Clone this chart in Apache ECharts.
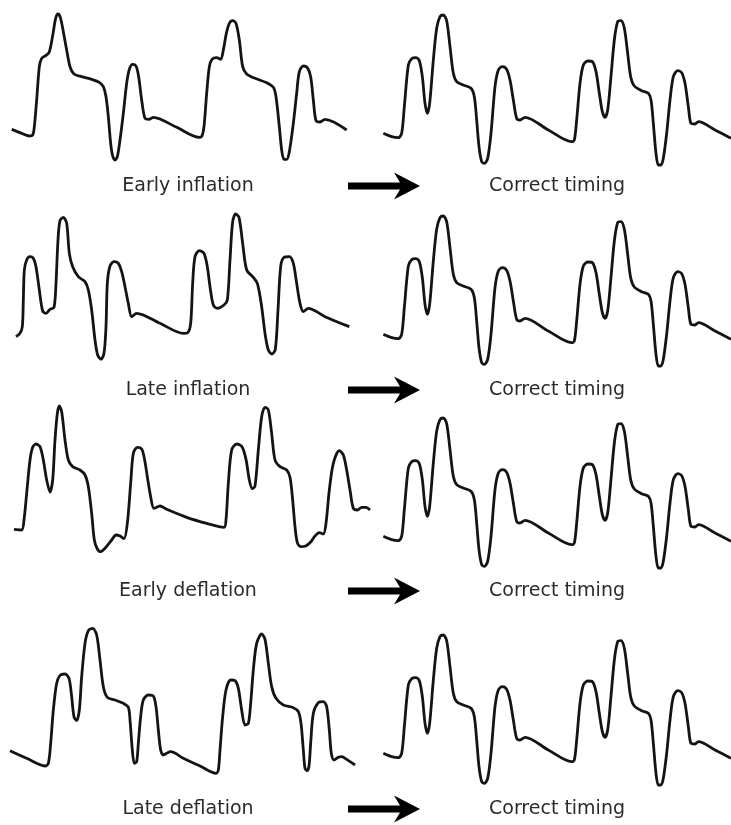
<!DOCTYPE html>
<html>
<head>
<meta charset="utf-8">
<script src="https://cdn.jsdelivr.net/npm/echarts@6/dist/echarts.min.js"></script>
<style>html,body{margin:0;padding:0;background:#fff}#c{width:731px;height:825px}</style>
</head>
<body>
<div id="c"></div>
<script>
// Waveforms: [time, pressure] in arbitrary units
var earlyInflation = [[35,152],[60,142],[88,132],[98,135],[103,160],[110,240],[118,340],[125,365],[137,373],[147,382],[153,405],[160,445],[167,485],[174,498],[181,488],[190,445],[200,390],[210,340],[222,318],[245,310],[275,302],[298,293],[310,280],[318,250],[325,190],[332,110],[338,72],[345,60],[352,70],[360,120],[370,200],[380,290],[388,332],[398,347],[408,342],[416,310],[425,240],[435,185],[447,182],[460,188],[530,158],[598,128],[606,132],[612,160],[620,260],[628,340],[636,362],[650,367],[662,362],[670,390],[679,440],[688,470],[698,478],[708,470],[718,420],[728,340],[740,318],[765,305],[800,292],[820,278],[828,250],[838,160],[845,90],[852,62],[860,62],[868,85],[880,170],[890,260],[898,325],[910,342],[922,337],[932,310],[940,240],[948,178],[960,174],[975,182],[1040,150]];
var lateInflation = [[48,130],[60,140],[67,160],[70,240],[73,330],[80,360],[90,370],[100,365],[108,340],[118,270],[128,207],[138,200],[150,212],[162,218],[168,290],[174,420],[180,478],[190,488],[200,470],[208,380],[218,340],[235,310],[255,295],[265,270],[275,210],[285,120],[293,75],[303,62],[312,80],[318,160],[322,290],[330,342],[342,355],[355,350],[365,325],[375,280],[385,230],[395,190],[410,200],[480,170],[550,140],[563,142],[572,170],[578,290],[585,370],[598,388],[612,380],[622,340],[630,280],[640,225],[652,215],[672,225],[682,240],[690,360],[698,475],[707,498],[717,488],[728,410],[740,330],[758,310],[772,290],[785,220],[795,140],[805,90],[816,78],[826,92],[834,210],[842,340],[852,368],[868,370],[880,350],[890,290],[900,230],[910,205],[925,215],[975,190],[1048,160]];
var earlyDeflation = [[42,152],[65,150],[72,180],[80,260],[90,360],[98,398],[108,408],[120,400],[130,360],[140,300],[150,264],[158,300],[165,420],[172,500],[178,522],[185,505],[195,420],[205,360],[218,340],[240,330],[255,315],[265,280],[275,200],[283,120],[292,93],[302,85],[315,95],[335,120],[348,135],[360,132],[372,124],[382,170],[392,290],[400,380],[412,398],[425,393],[433,365],[442,310],[452,250],[462,215],[480,222],[500,212],[560,188],[620,170],[672,158],[678,180],[685,290],[695,390],[710,408],[726,400],[738,362],[748,300],[757,274],[765,282],[775,390],[785,490],[795,518],[805,510],[815,440],[825,360],[840,340],[860,330],[870,308],[878,240],[885,160],[892,112],[902,100],[917,102],[932,114],[945,132],[958,142],[970,138],[978,170],[988,270],[1000,350],[1018,388],[1030,375],[1040,330],[1050,270],[1060,215],[1072,210],[1085,218],[1098,218],[1110,210]];
var lateDeflation = [[30,118],[80,95],[135,72],[145,80],[152,140],[160,240],[170,320],[180,344],[195,348],[207,335],[215,280],[222,220],[230,208],[238,240],[245,340],[255,440],[265,478],[278,485],[290,465],[300,390],[310,310],[322,278],[345,270],[370,260],[385,248],[390,210],[397,120],[403,80],[410,85],[415,140],[422,220],[430,270],[445,285],[460,282],[468,250],[475,180],[482,120],[490,105],[500,110],[512,115],[550,95],[600,72],[648,50],[655,60],[660,120],[668,220],[678,300],[692,330],[705,328],[715,305],[725,240],[735,195],[745,200],[752,260],[760,360],[770,440],[785,468],[795,452],[805,380],[815,310],[828,275],[850,255],[880,247],[895,235],[903,200],[910,120],[915,65],[921,58],[927,72],[932,140],[940,230],[955,262],[970,265],[980,250],[988,180],[994,110],[1002,90],[1015,98],[1025,100],[1040,92],[1065,75]];
var correctTiming = [[55,140],[80,130],[100,127],[110,140],[118,220],[130,345],[140,364],[152,367],[163,358],[172,310],[180,230],[187,200],[194,230],[205,360],[215,455],[225,490],[235,495],[245,478],[255,400],[265,320],[275,295],[295,285],[318,275],[328,250],[335,180],[342,100],[350,55],[358,50],[368,65],[378,140],[390,280],[400,330],[412,340],[425,332],[435,300],[445,240],[455,185],[465,180],[480,188],[550,150],[620,115],[628,120],[635,180],[645,290],[655,345],[668,357],[682,355],[693,325],[703,260],[712,205],[720,188],[728,210],[737,300],[748,420],[758,475],[768,478],[778,455],[788,380],[797,310],[808,282],[830,268],[850,260],[858,240],[865,170],[873,80],[880,45],[888,45],[895,65],[905,140],[915,240],[925,310],[938,328],[950,322],[960,290],[970,220],[978,170],[990,168],[1000,175],[1050,150],[1098,125]];

var leftLabels = ['Early inflation', 'Late inflation', 'Early deflation', 'Late deflation'];
var rightLabel = 'Correct timing';
var leftSeries = [earlyInflation, lateInflation, earlyDeflation, lateDeflation];

// layout
var rowTopsLeft = [0, 200, 400, 610];
var rowTopsRight = [0, 201, 403, 620];
var labelY = [186, 390, 591, 809];

var grids = [], xAxes = [], yAxes = [], series = [], graphics = [];
function addPanel(data, left, width, top, xMax) {
  var i = grids.length;
  grids.push({left: left, top: top, width: width, height: 180});
  xAxes.push({type: 'value', gridIndex: i, min: 0, max: xMax, show: false});
  yAxes.push({type: 'value', gridIndex: i, min: 0, max: 540, show: false});
  series.push({type: 'line', xAxisIndex: i, yAxisIndex: i, data: data, smooth: 0.3,
    showSymbol: false, clip: false, lineStyle: {color: '#141414', width: 2.8}});
}
for (var r = 0; r < 4; r++) {
  addPanel(leftSeries[r], 0, 370, rowTopsLeft[r], 1110);
  addPanel(correctTiming, 365, 366, rowTopsRight[r], 1098);
  var c = labelY[r];
  graphics.push({type: 'text', x: 188, y: c, style: {text: leftLabels[r], fill: '#2b2b2b', font: '19px "DejaVu Sans"', textAlign: 'center', textVerticalAlign: 'middle'}});
  graphics.push({type: 'text', x: 557, y: c, style: {text: rightLabel, fill: '#2b2b2b', font: '19px "DejaVu Sans"', textAlign: 'center', textVerticalAlign: 'middle'}});
  graphics.push({type: 'polygon', shape: {points: [[348,c-3.5],[400,c-3.5],[394,c-13.5],[420,c],[394,c+13.5],[400,c+3.5],[348,c+3.5]]}, style: {fill: '#000'}});
}

var chart = echarts.init(document.getElementById('c'));
chart.setOption({
  animation: false,
  backgroundColor: '#fff',
  grid: grids, xAxis: xAxes, yAxis: yAxes, series: series,
  graphic: graphics
});
</script>
</body>
</html>
